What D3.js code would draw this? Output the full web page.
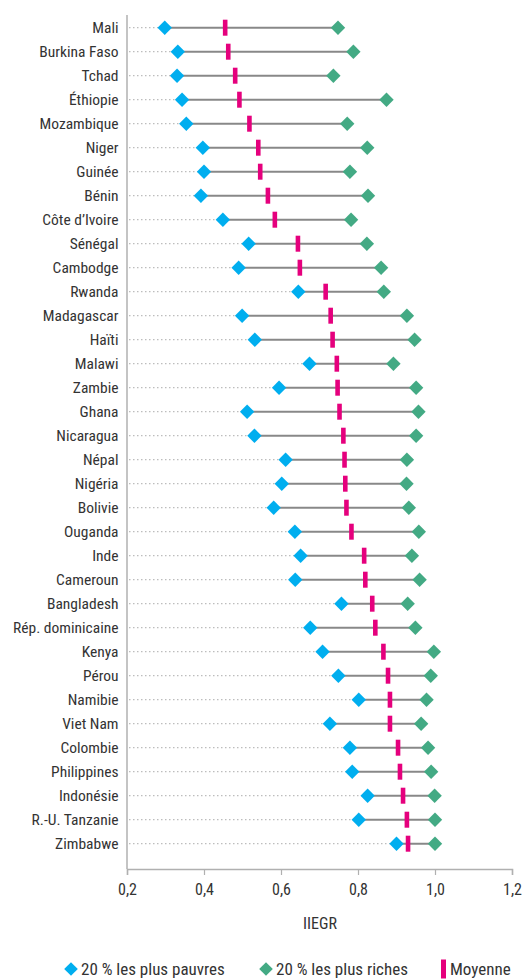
<!DOCTYPE html>
<html><head><meta charset="utf-8">
<script src="https://cdn.jsdelivr.net/npm/d3@7"></script>
<style>
html,body{margin:0;padding:0;background:#fff;}
svg{display:block;}
text{font-family:"Roboto Condensed","Liberation Sans Narrow","Arial Narrow",Roboto,sans-serif;fill:#333;}
</style></head><body>
<svg id="c" width="527" height="979"></svg>
<script>
const countries = ["Mali","Burkina Faso","Tchad","Éthiopie","Mozambique","Niger","Guinée","Bénin","Côte d’Ivoire","Sénégal","Cambodge","Rwanda","Madagascar","Haïti","Malawi","Zambie","Ghana","Nicaragua","Népal","Nigéria","Bolivie","Ouganda","Inde","Cameroun","Bangladesh","Rép. dominicaine","Kenya","Pérou","Namibie","Viet Nam","Colombie","Philippines","Indonésie","R.-U. Tanzanie","Zimbabwe"];
const poorest = [0.298,0.332,0.330,0.343,0.354,0.397,0.400,0.392,0.449,0.516,0.490,0.645,0.499,0.532,0.674,0.595,0.512,0.531,0.612,0.602,0.581,0.636,0.651,0.637,0.757,0.676,0.708,0.749,0.802,0.727,0.779,0.785,0.825,0.802,0.900];
const richest = [0.748,0.788,0.736,0.874,0.772,0.824,0.779,0.826,0.782,0.823,0.860,0.867,0.927,0.947,0.892,0.951,0.957,0.951,0.927,0.926,0.932,0.958,0.940,0.960,0.929,0.949,0.997,0.989,0.978,0.964,0.982,0.990,0.999,1.000,1.000];
const average = [0.455,0.463,0.481,0.492,0.518,0.541,0.546,0.566,0.584,0.644,0.649,0.716,0.729,0.734,0.745,0.747,0.752,0.762,0.765,0.767,0.770,0.783,0.816,0.819,0.837,0.845,0.866,0.878,0.883,0.883,0.904,0.909,0.917,0.927,0.930];
const xTicks = [0.2,0.4,0.6,0.8,1.0,1.2];
const xTitle = "IIEGR";
const legendLabels = ["20 % les plus pauvres","20 % les plus riches","Moyenne"];

const C_POOR = "#00aeef", C_RICH = "#43aa84", C_AVG = "#e5007d";
const rows = countries.map((c,i)=>({c, p:poorest[i], r:richest[i], a:average[i]}));

const svg = d3.select("#c");
const x = d3.scaleLinear().domain([0.2,1.2]).range([127,512]);
const y = d3.scalePoint().domain(countries).range([27.7,843.7]);
const axisY0 = 15, axisY1 = 869;

// y axis line
svg.append("line").attr("x1",x(0.2)).attr("x2",x(0.2)).attr("y1",axisY0).attr("y2",axisY1)
  .attr("stroke","#b0b0b0").attr("stroke-width",1.5);

// x axis
const xa = svg.append("g").attr("transform",`translate(0,${axisY1})`)
  .call(d3.axisBottom(x).tickValues(xTicks).tickSize(6).tickPadding(9)
    .tickFormat(d=>d3.format(".1f")(d).replace(".",",")));
xa.select(".domain").attr("stroke","#b0b0b0").attr("stroke-width",1.5);
xa.selectAll(".tick line").attr("stroke","#b0b0b0").attr("stroke-width",1.2);
xa.selectAll(".tick text").attr("font-size",16).style("fill","#333")
  .attr("font-family",null);

svg.append("text").attr("x",320).attr("y",929).attr("text-anchor","middle")
  .attr("font-size",16).text(xTitle);

// labels
svg.append("g").selectAll("text").data(rows).join("text")
  .attr("x",118.5).attr("y",d=>y(d.c)).attr("dy","0.35em").attr("text-anchor","end")
  .attr("font-size",15.5).text(d=>d.c);

// dotted lines
svg.append("g").selectAll("line").data(rows).join("line")
  .attr("x1",x(0.2)+2).attr("x2",d=>x(d.p)).attr("y1",d=>y(d.c)).attr("y2",d=>y(d.c))
  .attr("stroke","#bdbdbd").attr("stroke-width",1.3).attr("stroke-dasharray","1.5,2.5");

// solid lines
svg.append("g").selectAll("line").data(rows).join("line")
  .attr("x1",d=>x(d.p)).attr("x2",d=>x(d.r)).attr("y1",d=>y(d.c)).attr("y2",d=>y(d.c))
  .attr("stroke","#888").attr("stroke-width",2);

const diamond = (cx,cy,s)=>`M${cx},${cy-s}L${cx+s},${cy}L${cx},${cy+s}L${cx-s},${cy}Z`;
svg.append("g").selectAll("path").data(rows).join("path")
  .attr("d",d=>diamond(x(d.r),y(d.c),7.2)).attr("fill",C_RICH);
svg.append("g").selectAll("path").data(rows).join("path")
  .attr("d",d=>diamond(x(d.p),y(d.c),7.2)).attr("fill",C_POOR);
svg.append("g").selectAll("rect").data(rows).join("rect")
  .attr("x",d=>x(d.a)-2.3).attr("y",d=>y(d.c)-8).attr("width",4.6).attr("height",16)
  .attr("fill",C_AVG);

// legend
const ly = 969;
const lg = svg.append("g");
lg.append("path").attr("d",diamond(71,ly,6.8)).attr("fill",C_POOR);
lg.append("text").attr("x",81).attr("y",ly).attr("dy","0.35em").attr("font-size",17).text(legendLabels[0]);
lg.append("path").attr("d",diamond(266,ly,6.8)).attr("fill",C_RICH);
lg.append("text").attr("x",276).attr("y",ly).attr("dy","0.35em").attr("font-size",17).text(legendLabels[1]);
lg.append("rect").attr("x",441).attr("y",ly-9.5).attr("width",5).attr("height",19).attr("fill",C_AVG);
lg.append("text").attr("x",450).attr("y",ly).attr("dy","0.35em").attr("font-size",17).text(legendLabels[2]);
</script></body></html>
